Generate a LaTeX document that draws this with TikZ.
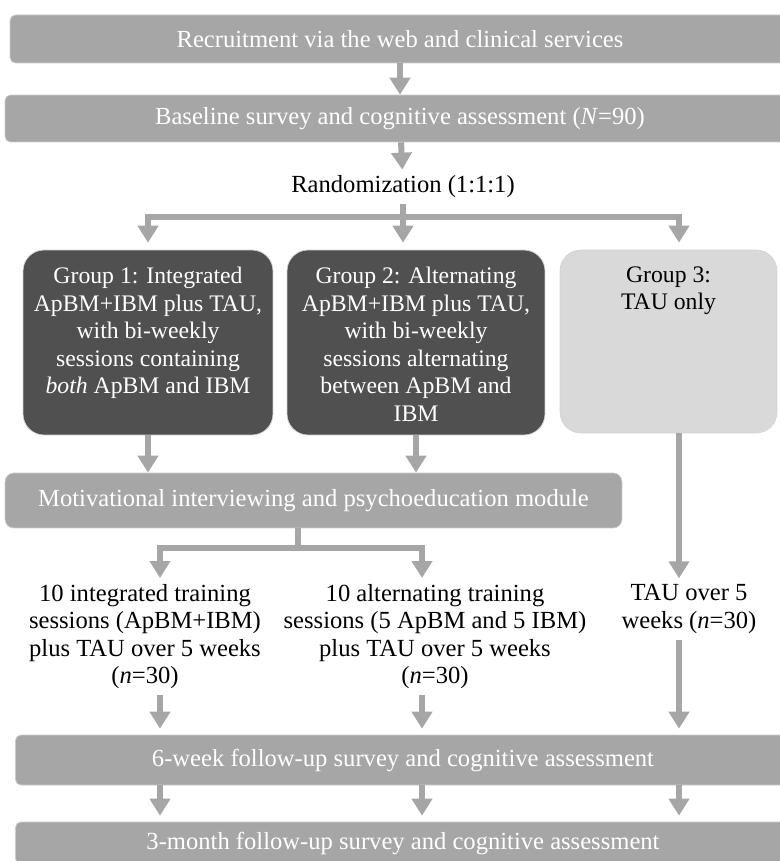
\documentclass[tikz,border=0pt]{standalone}
\usepackage{fontspec}
\setmainfont{Liberation Serif}
\usetikzlibrary{arrows.meta}
\definecolor{bargray}{RGB}{166,166,166}
\definecolor{darkgroup}{RGB}{80,80,80}
\definecolor{lightgroup}{RGB}{217,217,217}
\newcommand{\grouptext}[2][4.9cm]{\parbox[c][3.0cm][t]{#1}{\centering #2}}
\begin{document}
\begin{tikzpicture}
  [x=0.02cm,y=-0.02cm,
   every node/.style={font=\fontsize{14}{15.6}\selectfont,align=center},
   bar/.style={fill=bargray,draw=gray!40,rounded corners=3pt,text=white,minimum height=0.96cm},
   grp/.style={rounded corners=0.42cm,draw=gray!35,inner sep=0pt,minimum height=3.7cm,
               font=\fontsize{13.5}{15.6}\selectfont},
   conn/.style={draw=bargray,line width=0.12cm},
   arr/.style={conn,-{Triangle[width=0.4cm,length=0.34cm]}}]
  \useasboundingbox (0,0) rectangle (779,861);

  \node[bar,minimum width=15.6cm] (recruit) at (400,39) {Recruitment via the web and clinical services};
  \node[bar,minimum width=15.8cm,minimum height=0.94cm] (baseline) at (400,118.5) {Baseline survey and cognitive assessment (\textit{N}=90)};
  \node (rand) at (403,187) {Randomization (1:1:1)};

  \node[grp,fill=darkgroup,text=white,minimum width=5cm] (g1) at (148,342.5)
    {\grouptext{Group 1: Integrated\\ApBM+IBM plus TAU,\\with bi-weekly\\sessions containing\\\textit{both} ApBM and IBM}};
  \node[grp,fill=darkgroup,text=white,minimum width=5.16cm] (g2) at (416,342.5)
    {\grouptext{Group 2: Alternating\\ApBM+IBM plus TAU,\\with bi-weekly\\sessions alternating\\between ApBM and\\IBM}};
  \node[grp,fill=lightgroup,minimum width=4.34cm,minimum height=3.66cm] (g3) at (668.5,341.5)
    {\grouptext[4.1cm]{Group 3:\\TAU only}};

  \node[bar,minimum width=12.34cm,minimum height=1.1cm,rounded corners=5pt] (mot) at (313.5,500.5) {Motivational interviewing and psychoeducation module};

  \node (t1) at (145,636.5) {10 integrated training\\sessions (ApBM+IBM)\\plus TAU over 5 weeks\\(\textit{n}=30)};
  \node (t2) at (435,636.5) {10 alternating training\\sessions (5 ApBM and 5 IBM)\\plus TAU over 5 weeks\\(\textit{n}=30)};
  \node (t3) at (689,609) {TAU over 5\\weeks (\textit{n}=30)};

  \node[bar,minimum width=15.5cm,minimum height=1cm] (six) at (403,760) {6-week follow-up survey and cognitive assessment};
  \node[bar,minimum width=15.5cm,minimum height=0.84cm] (three) at (403,843) {3-month follow-up survey and cognitive assessment};

  \coordinate (split) at (403,217);
  \coordinate (fork) at (298,548);
  \coordinate (c1) at (160,0);
  \coordinate (c2) at (422,0);
  \coordinate (c3) at (679,0);

  \draw[arr] (recruit) -- (baseline);
  \draw[arr] (baseline) -- (rand);
  \draw[arr,shorten >=0.14cm] (rand) -- (rand |- g2.north);
  \draw[arr,shorten >=0.14cm] (split) -| (g1.north);
  \draw[arr,shorten >=0.14cm] (split) -| (c3 |- g3.north);
  \draw[arr] (g1) -- (g1 |- mot.north);
  \draw[arr] (g2) -- (g2 |- mot.north);
  \draw[arr] (c3 |- g3.south) -- (c3 |- t3.north);
  \draw[conn] (fork |- mot.south) -- (fork);
  \draw[arr] (fork) -| (c1 |- t1.north);
  \draw[arr] (fork) -| (c2 |- t2.north);
  \foreach \c/\t in {c1/t1,c2/t2,c3/t3}
    \draw[arr,shorten >=0.12cm] (\c |- \t.south) -- (\c |- six.north);
  \foreach \c in {c1,c2,c3}
    \draw[arr,shorten >=0.12cm] (\c |- six.south) -- (\c |- three.north);

\end{tikzpicture}
\end{document}
